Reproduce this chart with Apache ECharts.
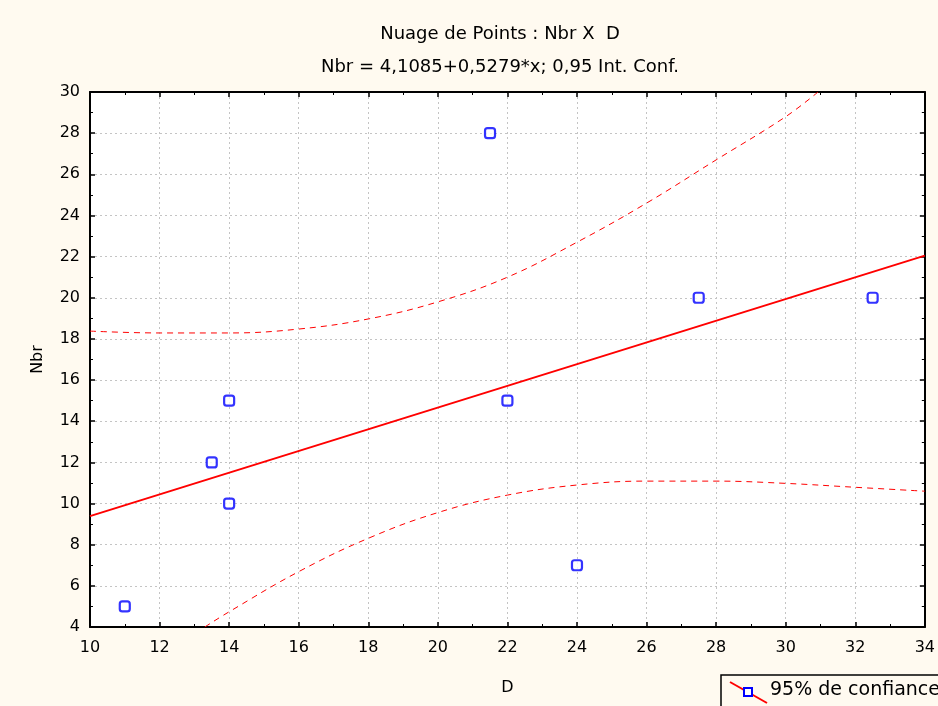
<!DOCTYPE html>
<html>
<head>
<meta charset="utf-8">
<script src="https://cdn.jsdelivr.net/npm/echarts@6/dist/echarts.min.js"></script>
<style>
html,body{margin:0;padding:0;background:#FFFAF0;}
#c{width:938px;height:706px;}
</style>
</head>
<body>
<div id="c"></div>
<script>
// Observed points (D, Nbr)
const pointsD   = [11, 13.5, 14, 14, 21.5, 22, 24, 27.5, 32.5];
const pointsNbr = [5, 12, 15, 10, 28, 15, 7, 20, 20];

// Regression line end points
const fitD   = [10, 34];
const fitNbr = [9.39, 22.05];

// Upper 95% confidence curve
const upperD   = [10, 12, 14, 16, 18, 20, 22, 24, 26, 28, 30, 30.93];
const upperNbr = [18.38, 18.29, 18.29, 18.48, 18.97, 19.8, 21.0, 22.7, 24.6, 26.7, 28.8, 30];

// Lower 95% confidence curve
const lowerD   = [13.3, 14, 16, 18, 20, 22, 24, 26, 28, 30, 32, 34];
const lowerNbr = [4, 4.74, 6.69, 8.31, 9.56, 10.41, 10.9, 11.09, 11.09, 10.98, 10.79, 10.6];

// Axis settings
const xMin = 10, xMax = 34, xStep = 2;
const yMin = 4, yMax = 30, yStep = 2;

const titleText = 'Nuage de Points : Nbr X  D';
const subtitleText = 'Nbr = 4,1085+0,5279*x; 0,95 Int. Conf.';
const xName = 'D', yName = 'Nbr';
const legendText = '95% de confiance';

const zip = (a, b) => a.map((v, i) => [v, b[i]]);

const FONT = 'DejaVu Sans, Liberation Sans, sans-serif';
const chart = echarts.init(document.getElementById('c'));

const baseAxis = {
  axisLine: {show: true, onZero: false, lineStyle: {color: '#000', width: 2}},
  axisTick: {show: true, inside: true, length: 5, lineStyle: {color: '#000', width: 1.5}},
  minorTick: {show: true, splitNumber: 2, length: 3, lineStyle: {color: '#000', width: 1}},
};

chart.setOption({
  backgroundColor: '#FFFAF0',
  animation: false,
  title: [
    {text: titleText, left: 495, top: 20, textAlign: 'center',
     textStyle: {fontFamily: FONT, fontSize: 18, fontWeight: 'normal', color: '#000'}},
    {text: subtitleText, left: 495, top: 53, textAlign: 'center',
     textStyle: {fontFamily: FONT, fontSize: 18, fontWeight: 'normal', color: '#000'}}
  ],
  grid: {left: 90, right: 13, top: 92, bottom: 79, show: true, backgroundColor: '#fff', borderWidth: 0},
  xAxis: [
    Object.assign({}, baseAxis, {
      type: 'value', min: xMin, max: xMax, interval: xStep, position: 'bottom',
      name: xName, nameLocation: 'middle', nameGap: 53,
      nameTextStyle: {fontFamily: FONT, fontSize: 16, color: '#000'},
      axisLabel: {fontFamily: FONT, fontSize: 16, color: '#000', margin: 13},
      splitLine: {show: true, lineStyle: {color: '#c4c4c4', type: [2, 3], width: 1}}
    }),
    Object.assign({}, baseAxis, {
      type: 'value', min: xMin, max: xMax, interval: xStep, position: 'top',
      axisLabel: {show: false}, splitLine: {show: false}
    })
  ],
  yAxis: [
    Object.assign({}, baseAxis, {
      type: 'value', min: yMin, max: yMax, interval: yStep, position: 'left',
      name: yName, nameLocation: 'middle', nameGap: 44,
      nameTextStyle: {fontFamily: FONT, fontSize: 16, color: '#000'},
      axisLabel: {fontFamily: FONT, fontSize: 16, color: '#000', margin: 10},
      splitLine: {show: true, lineStyle: {color: '#c4c4c4', type: [2, 3], width: 1}}
    }),
    Object.assign({}, baseAxis, {
      type: 'value', min: yMin, max: yMax, interval: yStep, position: 'right',
      axisLabel: {show: false}, splitLine: {show: false}
    })
  ],
  series: [
    {type: 'line', data: zip(upperD, upperNbr), smooth: 0.4, symbol: 'none', clip: true,
     lineStyle: {color: '#ff0000', width: 1, type: [6, 5]}, z: 3},
    {type: 'line', data: zip(lowerD, lowerNbr), smooth: 0.4, symbol: 'none', clip: true,
     lineStyle: {color: '#ff0000', width: 1, type: [6, 5]}, z: 3},
    {type: 'line', data: zip(fitD, fitNbr), symbol: 'none',
     lineStyle: {color: '#ff0000', width: 2}, z: 4},
    {type: 'scatter', data: zip(pointsD, pointsNbr), symbol: 'roundRect', symbolSize: 10,
     itemStyle: {color: '#fff', borderColor: '#0000ff', borderWidth: 2.2}, z: 5}
  ],
  graphic: [
    {type: 'rect', shape: {x: 721, y: 675, width: 230, height: 40},
     style: {fill: '#FFFAF0', stroke: '#000', lineWidth: 1.5}, z: 10},
    {type: 'line', shape: {x1: 730, y1: 682, x2: 767, y2: 703},
     style: {stroke: '#ff0000', lineWidth: 2}, z: 11},
    {type: 'rect', shape: {x: 744, y: 688, width: 8, height: 8},
     style: {fill: '#fff', stroke: '#0000ff', lineWidth: 2}, z: 12},
    {type: 'text', left: 770, top: 681,
     style: {text: legendText, fontFamily: FONT, fontSize: 19, fill: '#000'}, z: 12}
  ]
});
</script>
</body>
</html>
